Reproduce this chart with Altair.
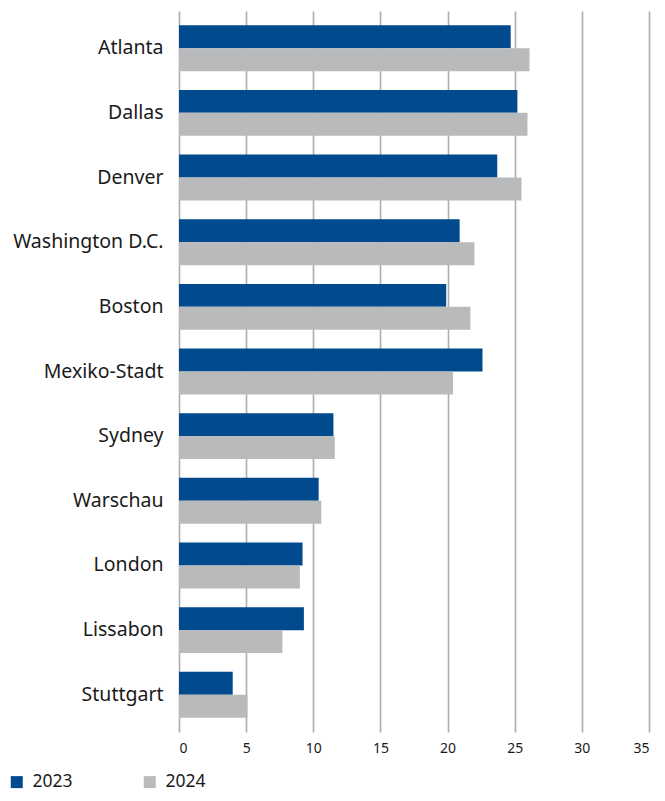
import altair as alt
import pandas as pd

cities = ["Atlanta", "Dallas", "Denver", "Washington D.C.", "Boston", "Mexiko-Stadt",
          "Sydney", "Warschau", "London", "Lissabon", "Stuttgart"]
v2023 = [24.7, 25.2, 23.7, 20.9, 19.9, 22.6, 11.5, 10.4, 9.2, 9.3, 4.0]
v2024 = [26.1, 25.95, 25.5, 22.0, 21.7, 20.4, 11.6, 10.6, 9.0, 7.7, 5.1]
years = ["2023", "2024"]
colors = ["#004A8D", "#B9BABC"]
x_ticks = [0, 5, 10, 15, 20, 25, 30, 35]

rows = []
for c, a, b in zip(cities, v2023, v2024):
    rows.append({"city": c, "year": years[0], "value": a})
    rows.append({"city": c, "year": years[1], "value": b})
df = pd.DataFrame(rows)

FONT = "Noto Sans"

chart = alt.Chart(df).mark_bar().encode(
    y=alt.Y("city:N", sort=cities, title=None,
            scale=alt.Scale(paddingInner=0.29, paddingOuter=0.22),
            axis=alt.Axis(domain=False, ticks=False, labelPadding=16, labelFontSize=19.5,
                          labelColor="#1a1a1a", labelFont=FONT, grid=False)),
    yOffset=alt.YOffset("year:N", sort=years),
    x=alt.X("value:Q", title=None, scale=alt.Scale(domain=[0, 35], nice=False),
            axis=alt.Axis(values=x_ticks, domain=False, ticks=False, labelPadding=9,
                          labelFontSize=14, labelColor="#1a1a1a", labelFont=FONT,
                          grid=True, gridColor="#ADADAD", gridWidth=1.6, format="d")),
    color=alt.Color("year:N", sort=years, scale=alt.Scale(domain=years, range=colors),
                    legend=alt.Legend(title=None, orient="none", direction="horizontal",
                                      legendX=-171, legendY=762, symbolType="square",
                                      symbolSize=144, symbolStrokeWidth=0,
                                      labelFontSize=17.5, labelFont=FONT, labelColor="#1a1a1a",
                                      labelOffset=7, columnPadding=68)),
).properties(
    width=470, height=721,
    autosize=alt.AutoSizeParams(type="none"),
    padding={"left": 171, "top": 3, "right": 8, "bottom": 61},
).configure_view(stroke=None)

chart.save("out.html", embed_options={"renderer": "svg", "actions": False})
